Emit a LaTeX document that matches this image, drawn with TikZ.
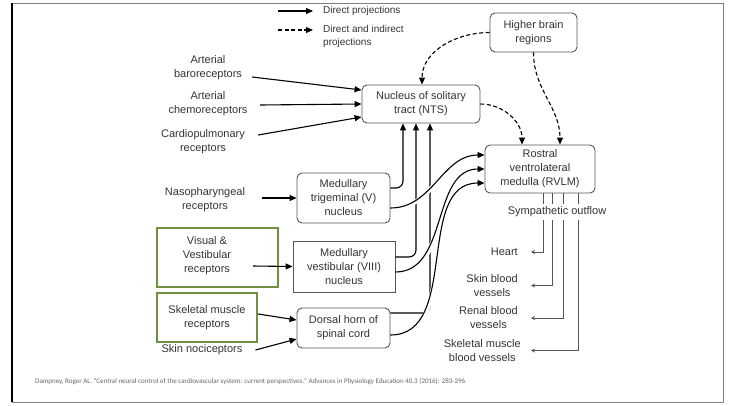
\documentclass[tikz,border=0pt]{standalone}
\usepackage{fontspec}
\setmainfont{Liberation Sans}
\newfontfamily\citefont{Carlito}
\usetikzlibrary{arrows.meta}
\definecolor{txtgray}{HTML}{333333}
\definecolor{boxgray}{HTML}{555555}
\definecolor{recgreen}{HTML}{6E9040}
\tikzset{
  lbl/.style={align=center,text=txtgray,inner sep=1pt},
  cell/.style={draw=boxgray,line width=.9pt,rounded corners=5pt,align=center,text=txtgray,inner sep=0pt},
  sqcell/.style={cell,rounded corners=0pt},
  greenbox/.style={draw=recgreen,line width=2.3pt},
  arr/.style={-{Triangle[length=7pt,width=6pt]},line width=1.1pt},
  darr/.style={arr,dash pattern=on 4pt off 2.5pt},
  outarr/.style={-{Stealth[length=4pt,width=4pt]},draw=boxgray,line width=.9pt},
  halo/.style={preaction={draw=white,line width=4.5pt,arrows=-,shorten <=4pt,shorten >=6pt}},
}
\begin{document}
\begin{tikzpicture}[x=1pt,y=-1pt,font=\fontsize{11}{14}\selectfont]
\path[use as bounding box] (0,0) rectangle (730,405);
\draw[gray,line width=1pt] (12,3) rectangle (723,402);
\draw[line width=1.2pt] (12,3) -- (12,402);
% legend
\coordinate (legs1) at (278,11);\coordinate (lege1) at (313,11);
\coordinate (legs2) at (278,30);\coordinate (lege2) at (313,30);
\draw[arr] (legs1) -- (lege1);
\draw[darr] (legs2) -- (lege2);
\node[lbl,anchor=west,font=\fontsize{10}{13}\selectfont] (legdir) at (322,11) {Direct projections};
\node[lbl,anchor=west,align=left,font=\fontsize{10}{13}\selectfont] (legind) at (322,36) {Direct and indirect\\projections};
% central boxes
\node[cell,minimum width=118pt,minimum height=38pt] (nts) at (421,104) {Nucleus of solitary\\tract (NTS)};
\node[cell,minimum width=87pt,minimum height=39pt] (hbr) at (533.5,32.5) {Higher brain\\regions};
\node[cell,minimum width=110pt,minimum height=48pt] (rvlm) at (540,169) {Rostral\\ventrolateral\\medulla (RVLM)};
\node[cell,minimum width=93pt,minimum height=50pt] (trig) at (343.5,198) {Medullary\\trigeminal (V)\\nucleus};
\node[sqcell,minimum width=102pt,minimum height=51pt] (vest) at (344,266.5) {Medullary\\vestibular (VIII)\\nucleus};
\node[cell,minimum width=93pt,minimum height=40pt] (dorsal) at (343.5,328) {Dorsal horn of\\spinal cord};
% receptors
\node[lbl] (baro) at (208,67.5) {Arterial\\baroreceptors};
\node[lbl] (chemo) at (208,104) {Arterial\\chemoreceptors};
\node[lbl] (cardio) at (203,141.5) {Cardiopulmonary\\receptors};
\node[lbl] (naso) at (205,199.5) {Nasopharyngeal\\receptors};
\node[greenbox,minimum width=121pt,minimum height=59pt] (visbox) at (217.5,257.5) {};
\node[lbl] (visual) at (207,256) {Visual \&\\Vestibular\\receptors};
\coordinate (visout) at (253,266);
\node[lbl,greenbox,minimum width=100pt,minimum height=49pt] (skm) at (207,317.5) {Skeletal muscle\\receptors};
\node[lbl] (skin) at (202,350) {Skin nociceptors};
% inputs
\draw[arr] ([xshift=9pt,yshift=-9.5pt]baro.east) -- ([yshift=14pt]nts.west);
\draw[arr] ([xshift=11.5pt,yshift=-1pt]chemo.east) -- (nts.west);
\draw[arr] ([xshift=12pt,yshift=6.5pt]cardio.east) -- ([yshift=-13pt]nts.west);
\draw[arr] ([xshift=16pt,yshift=1.5pt]naso.east) -- (trig.west);
\draw[arr] (visout) -- (vest.west);
\draw[arr] ([yshift=3.5pt]skm.east) -- ([yshift=8pt]dorsal.west);
\draw[arr] ([xshift=12pt]skin.east) -- ([yshift=-11pt]dorsal.west);
% to NTS
\draw[arr,rounded corners=7pt] ([yshift=10pt]trig.east) -| ([xshift=-18pt]nts.south);
\draw[arr,rounded corners=7pt] ([yshift=9.5pt]vest.east) -| ([xshift=-5pt]nts.south);
\draw[arr,rounded corners=7pt] ([yshift=15pt]dorsal.east) -| ([xshift=9pt]nts.south);
% to RVLM
\draw[arr,halo] ([yshift=-10pt]trig.east) to[out=0,in=180] ([yshift=14pt]rvlm.west);
\draw[arr,halo] ([yshift=-5.5pt]vest.east) to[out=0,in=180] (rvlm.west);
\draw[arr,halo] ([yshift=-7pt]dorsal.east) to[out=0,in=180] ([yshift=-14pt]rvlm.west);
% dashed
\draw[darr] (hbr.west) to[out=180,in=90] ([xshift=1pt]nts.north);
\draw[darr] (nts.east) to[out=0,in=90] ([xshift=-18pt]rvlm.north);
\draw[darr] (hbr.south) to[out=-90,in=90] ([xshift=20pt]rvlm.north);
% sympathetic outflow
\node[lbl,anchor=east] (heart) at (519,252) {Heart};
\node[lbl,anchor=east] (skinbv) at (519,285.5) {Skin blood\\vessels};
\node[lbl,anchor=east] (renal) at (519,318) {Renal blood\\vessels};
\node[lbl,anchor=east] (skelbv) at (522,350.5) {Skeletal muscle\\blood vessels};
\draw[outarr] ([xshift=3pt]rvlm.south) |- ([xshift=12pt]heart.east);
\draw[outarr] ([xshift=12pt]rvlm.south) |- ([xshift=12pt]skinbv.east);
\draw[outarr] ([xshift=23pt]rvlm.south) |- ([xshift=12pt]renal.east);
\draw[outarr] ([xshift=38pt]rvlm.south) |- ([xshift=9pt]skelbv.east);
\node[lbl,fill=white,inner xsep=2pt,inner ysep=3pt] (outflow) at (557,212) {Sympathetic outflow};
% source
\node[anchor=west,text=gray!80!black,inner sep=0pt,font=\citefont\fontsize{7}{8}\selectfont] (cite) at (35,382) {Dampney, Roger AL. "Central neural control of the cardiovascular system: current perspectives." Advances in Physiology Education 40.3 (2016): 283-296.};
\end{tikzpicture}
\end{document}
